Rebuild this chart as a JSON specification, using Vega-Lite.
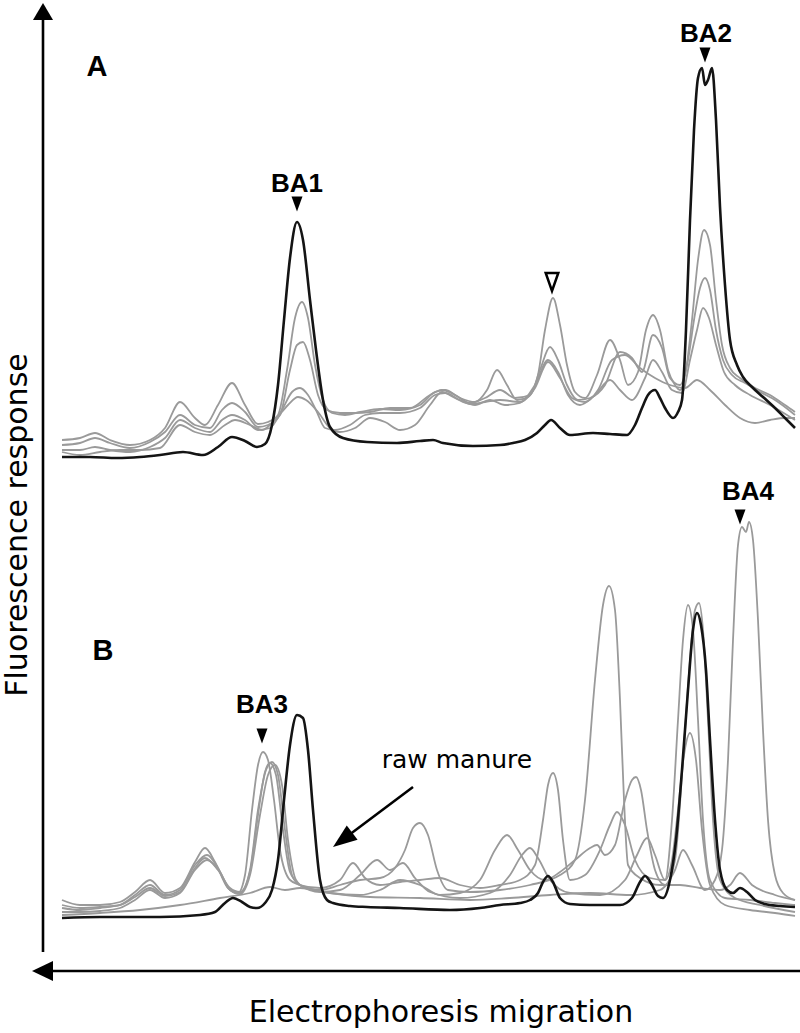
{
  "$schema": "https://vega.github.io/schema/vega-lite/v6.json",
  "width": 800,
  "height": 1033,
  "autosize": {"type": "none"},
  "padding": 0,
  "background": "white",
  "config": {"view": {"stroke": null}},
  "datasets": {
    "black": [
      {"id":"KA","x":62,"y":457},{"id":"KA","x":90,"y":457},{"id":"KA","x":117,"y":458},{"id":"KA","x":140,"y":457},{"id":"KA","x":160,"y":455},{"id":"KA","x":183,"y":452},{"id":"KA","x":203,"y":455},{"id":"KA","x":218,"y":447},{"id":"KA","x":232,"y":437},{"id":"KA","x":245,"y":441},{"id":"KA","x":257,"y":447},{"id":"KA","x":265,"y":444},{"id":"KA","x":272,"y":425},{"id":"KA","x":278,"y":385},{"id":"KA","x":284,"y":320},{"id":"KA","x":290,"y":258},{"id":"KA","x":297,"y":222},{"id":"KA","x":303,"y":240},{"id":"KA","x":310,"y":300},{"id":"KA","x":316,"y":350},{"id":"KA","x":323,"y":400},{"id":"KA","x":330,"y":427},{"id":"KA","x":343,"y":438},{"id":"KA","x":367,"y":442},{"id":"KA","x":397,"y":443},{"id":"KA","x":420,"y":441},{"id":"KA","x":433,"y":440},{"id":"KA","x":443,"y":443},{"id":"KA","x":473,"y":446},{"id":"KA","x":500,"y":445},{"id":"KA","x":513,"y":443},{"id":"KA","x":525,"y":440},{"id":"KA","x":537,"y":433},{"id":"KA","x":545,"y":425},{"id":"KA","x":551,"y":420},{"id":"KA","x":560,"y":428},{"id":"KA","x":570,"y":435},{"id":"KA","x":593,"y":433},{"id":"KA","x":610,"y":434},{"id":"KA","x":627,"y":435},{"id":"KA","x":635,"y":425},{"id":"KA","x":642,"y":408},{"id":"KA","x":648,"y":395},{"id":"KA","x":655,"y":390},{"id":"KA","x":660,"y":398},{"id":"KA","x":665,"y":408},{"id":"KA","x":673,"y":418},{"id":"KA","x":678,"y":412},{"id":"KA","x":682,"y":400},{"id":"KA","x":686,"y":330},{"id":"KA","x":690,"y":220},{"id":"KA","x":694,"y":130},{"id":"KA","x":698,"y":78},{"id":"KA","x":702,"y":68},{"id":"KA","x":705,"y":85},{"id":"KA","x":708,"y":80},{"id":"KA","x":712,"y":68},{"id":"KA","x":716,"y":120},{"id":"KA","x":720,"y":207},{"id":"KA","x":725,"y":285},{"id":"KA","x":730,"y":340},{"id":"KA","x":737,"y":365},{"id":"KA","x":743,"y":377},{"id":"KA","x":752,"y":387},{"id":"KA","x":763,"y":397},{"id":"KA","x":775,"y":408},{"id":"KA","x":785,"y":418},{"id":"KA","x":795,"y":428},
      {"id":"KB","x":62,"y":918},{"id":"KB","x":100,"y":917},{"id":"KB","x":160,"y":917},{"id":"KB","x":200,"y":915},{"id":"KB","x":215,"y":912},{"id":"KB","x":225,"y":903},{"id":"KB","x":233,"y":898},{"id":"KB","x":242,"y":902},{"id":"KB","x":250,"y":907},{"id":"KB","x":257,"y":908},{"id":"KB","x":265,"y":903},{"id":"KB","x":272,"y":890},{"id":"KB","x":278,"y":860},{"id":"KB","x":284,"y":800},{"id":"KB","x":290,"y":745},{"id":"KB","x":297,"y":715},{"id":"KB","x":303,"y":718},{"id":"KB","x":308,"y":750},{"id":"KB","x":313,"y":810},{"id":"KB","x":320,"y":880},{"id":"KB","x":327,"y":900},{"id":"KB","x":333,"y":903},{"id":"KB","x":350,"y":906},{"id":"KB","x":367,"y":907},{"id":"KB","x":400,"y":908},{"id":"KB","x":450,"y":910},{"id":"KB","x":480,"y":908},{"id":"KB","x":500,"y":905},{"id":"KB","x":520,"y":903},{"id":"KB","x":530,"y":900},{"id":"KB","x":538,"y":893},{"id":"KB","x":543,"y":882},{"id":"KB","x":548,"y":876},{"id":"KB","x":553,"y":882},{"id":"KB","x":560,"y":898},{"id":"KB","x":570,"y":904},{"id":"KB","x":590,"y":905},{"id":"KB","x":620,"y":905},{"id":"KB","x":632,"y":898},{"id":"KB","x":640,"y":882},{"id":"KB","x":645,"y":876},{"id":"KB","x":652,"y":885},{"id":"KB","x":658,"y":896},{"id":"KB","x":663,"y":898},{"id":"KB","x":670,"y":880},{"id":"KB","x":676,"y":840},{"id":"KB","x":682,"y":770},{"id":"KB","x":688,"y":690},{"id":"KB","x":693,"y":630},{"id":"KB","x":697,"y":613},{"id":"KB","x":701,"y":625},{"id":"KB","x":706,"y":670},{"id":"KB","x":710,"y":740},{"id":"KB","x":715,"y":820},{"id":"KB","x":720,"y":870},{"id":"KB","x":727,"y":890},{"id":"KB","x":733,"y":893},{"id":"KB","x":740,"y":888},{"id":"KB","x":747,"y":892},{"id":"KB","x":755,"y":900},{"id":"KB","x":765,"y":904},{"id":"KB","x":780,"y":906},{"id":"KB","x":795,"y":907}
    ],
    "grey": [
      {"id":"GA1","x":62,"y":440},{"id":"GA1","x":80,"y":438},{"id":"GA1","x":95,"y":433},{"id":"GA1","x":110,"y":440},{"id":"GA1","x":130,"y":445},{"id":"GA1","x":150,"y":440},{"id":"GA1","x":165,"y":428},{"id":"GA1","x":180,"y":402},{"id":"GA1","x":195,"y":418},{"id":"GA1","x":205,"y":425},{"id":"GA1","x":218,"y":405},{"id":"GA1","x":232,"y":383},{"id":"GA1","x":245,"y":405},{"id":"GA1","x":258,"y":424},{"id":"GA1","x":268,"y":422},{"id":"GA1","x":278,"y":415},{"id":"GA1","x":287,"y":370},{"id":"GA1","x":295,"y":318},{"id":"GA1","x":302,"y":302},{"id":"GA1","x":308,"y":318},{"id":"GA1","x":315,"y":365},{"id":"GA1","x":323,"y":400},{"id":"GA1","x":332,"y":413},{"id":"GA1","x":345,"y":415},{"id":"GA1","x":360,"y":412},{"id":"GA1","x":380,"y":409},{"id":"GA1","x":400,"y":410},{"id":"GA1","x":420,"y":405},{"id":"GA1","x":435,"y":392},{"id":"GA1","x":445,"y":390},{"id":"GA1","x":460,"y":398},{"id":"GA1","x":475,"y":402},{"id":"GA1","x":487,"y":390},{"id":"GA1","x":497,"y":370},{"id":"GA1","x":507,"y":385},{"id":"GA1","x":517,"y":400},{"id":"GA1","x":528,"y":397},{"id":"GA1","x":538,"y":375},{"id":"GA1","x":545,"y":330},{"id":"GA1","x":553,"y":298},{"id":"GA1","x":560,"y":325},{"id":"GA1","x":567,"y":365},{"id":"GA1","x":575,"y":392},{"id":"GA1","x":585,"y":398},{"id":"GA1","x":597,"y":375},{"id":"GA1","x":610,"y":340},{"id":"GA1","x":620,"y":360},{"id":"GA1","x":628,"y":385},{"id":"GA1","x":638,"y":372},{"id":"GA1","x":646,"y":330},{"id":"GA1","x":653,"y":315},{"id":"GA1","x":660,"y":330},{"id":"GA1","x":668,"y":370},{"id":"GA1","x":675,"y":385},{"id":"GA1","x":680,"y":390},{"id":"GA1","x":686,"y":370},{"id":"GA1","x":692,"y":320},{"id":"GA1","x":698,"y":260},{"id":"GA1","x":704,"y":230},{"id":"GA1","x":710,"y":245},{"id":"GA1","x":716,"y":300},{"id":"GA1","x":722,"y":345},{"id":"GA1","x":730,"y":368},{"id":"GA1","x":740,"y":378},{"id":"GA1","x":755,"y":388},{"id":"GA1","x":770,"y":395},{"id":"GA1","x":785,"y":405},{"id":"GA1","x":795,"y":412},
      {"id":"GA2","x":62,"y":445},{"id":"GA2","x":80,"y":443},{"id":"GA2","x":95,"y":438},{"id":"GA2","x":110,"y":443},{"id":"GA2","x":130,"y":448},{"id":"GA2","x":150,"y":442},{"id":"GA2","x":165,"y":432},{"id":"GA2","x":180,"y":415},{"id":"GA2","x":195,"y":425},{"id":"GA2","x":210,"y":428},{"id":"GA2","x":222,"y":410},{"id":"GA2","x":232,"y":403},{"id":"GA2","x":245,"y":412},{"id":"GA2","x":258,"y":427},{"id":"GA2","x":268,"y":425},{"id":"GA2","x":280,"y":415},{"id":"GA2","x":290,"y":370},{"id":"GA2","x":297,"y":345},{"id":"GA2","x":303,"y":342},{"id":"GA2","x":310,"y":360},{"id":"GA2","x":318,"y":395},{"id":"GA2","x":327,"y":410},{"id":"GA2","x":340,"y":413},{"id":"GA2","x":355,"y":413},{"id":"GA2","x":370,"y":412},{"id":"GA2","x":390,"y":408},{"id":"GA2","x":410,"y":408},{"id":"GA2","x":430,"y":395},{"id":"GA2","x":442,"y":390},{"id":"GA2","x":455,"y":395},{"id":"GA2","x":470,"y":403},{"id":"GA2","x":485,"y":398},{"id":"GA2","x":500,"y":390},{"id":"GA2","x":515,"y":398},{"id":"GA2","x":530,"y":395},{"id":"GA2","x":540,"y":370},{"id":"GA2","x":550,"y":347},{"id":"GA2","x":558,"y":360},{"id":"GA2","x":567,"y":385},{"id":"GA2","x":578,"y":400},{"id":"GA2","x":590,"y":398},{"id":"GA2","x":605,"y":385},{"id":"GA2","x":620,"y":352},{"id":"GA2","x":632,"y":358},{"id":"GA2","x":642,"y":372},{"id":"GA2","x":653,"y":335},{"id":"GA2","x":662,"y":348},{"id":"GA2","x":670,"y":378},{"id":"GA2","x":680,"y":385},{"id":"GA2","x":688,"y":360},{"id":"GA2","x":694,"y":320},{"id":"GA2","x":700,"y":288},{"id":"GA2","x":705,"y":278},{"id":"GA2","x":710,"y":290},{"id":"GA2","x":716,"y":330},{"id":"GA2","x":723,"y":360},{"id":"GA2","x":732,"y":375},{"id":"GA2","x":745,"y":383},{"id":"GA2","x":760,"y":392},{"id":"GA2","x":775,"y":400},{"id":"GA2","x":795,"y":415},
      {"id":"GA3","x":62,"y":450},{"id":"GA3","x":80,"y":450},{"id":"GA3","x":95,"y":447},{"id":"GA3","x":110,"y":450},{"id":"GA3","x":130,"y":452},{"id":"GA3","x":150,"y":447},{"id":"GA3","x":165,"y":438},{"id":"GA3","x":180,"y":420},{"id":"GA3","x":195,"y":428},{"id":"GA3","x":210,"y":432},{"id":"GA3","x":222,"y":420},{"id":"GA3","x":232,"y":415},{"id":"GA3","x":245,"y":420},{"id":"GA3","x":258,"y":430},{"id":"GA3","x":270,"y":428},{"id":"GA3","x":282,"y":410},{"id":"GA3","x":292,"y":392},{"id":"GA3","x":300,"y":388},{"id":"GA3","x":308,"y":395},{"id":"GA3","x":316,"y":410},{"id":"GA3","x":325,"y":428},{"id":"GA3","x":335,"y":430},{"id":"GA3","x":350,"y":425},{"id":"GA3","x":365,"y":415},{"id":"GA3","x":380,"y":413},{"id":"GA3","x":400,"y":413},{"id":"GA3","x":420,"y":408},{"id":"GA3","x":435,"y":395},{"id":"GA3","x":445,"y":393},{"id":"GA3","x":460,"y":400},{"id":"GA3","x":475,"y":405},{"id":"GA3","x":490,"y":400},{"id":"GA3","x":505,"y":405},{"id":"GA3","x":520,"y":403},{"id":"GA3","x":535,"y":385},{"id":"GA3","x":548,"y":360},{"id":"GA3","x":558,"y":372},{"id":"GA3","x":568,"y":395},{"id":"GA3","x":580,"y":405},{"id":"GA3","x":595,"y":395},{"id":"GA3","x":610,"y":380},{"id":"GA3","x":620,"y":390},{"id":"GA3","x":632,"y":400},{"id":"GA3","x":645,"y":378},{"id":"GA3","x":653,"y":360},{"id":"GA3","x":662,"y":372},{"id":"GA3","x":672,"y":390},{"id":"GA3","x":682,"y":393},{"id":"GA3","x":690,"y":360},{"id":"GA3","x":697,"y":330},{"id":"GA3","x":703,"y":308},{"id":"GA3","x":709,"y":318},{"id":"GA3","x":716,"y":345},{"id":"GA3","x":724,"y":372},{"id":"GA3","x":735,"y":385},{"id":"GA3","x":750,"y":395},{"id":"GA3","x":770,"y":405},{"id":"GA3","x":795,"y":420},
      {"id":"GA4","x":62,"y":452},{"id":"GA4","x":80,"y":455},{"id":"GA4","x":100,"y":452},{"id":"GA4","x":120,"y":450},{"id":"GA4","x":140,"y":450},{"id":"GA4","x":160,"y":448},{"id":"GA4","x":180,"y":425},{"id":"GA4","x":195,"y":432},{"id":"GA4","x":210,"y":435},{"id":"GA4","x":225,"y":425},{"id":"GA4","x":235,"y":420},{"id":"GA4","x":250,"y":425},{"id":"GA4","x":262,"y":430},{"id":"GA4","x":275,"y":420},{"id":"GA4","x":288,"y":405},{"id":"GA4","x":298,"y":397},{"id":"GA4","x":306,"y":400},{"id":"GA4","x":318,"y":412},{"id":"GA4","x":330,"y":428},{"id":"GA4","x":340,"y":432},{"id":"GA4","x":355,"y":428},{"id":"GA4","x":370,"y":418},{"id":"GA4","x":385,"y":422},{"id":"GA4","x":400,"y":430},{"id":"GA4","x":415,"y":425},{"id":"GA4","x":430,"y":405},{"id":"GA4","x":442,"y":392},{"id":"GA4","x":455,"y":398},{"id":"GA4","x":470,"y":404},{"id":"GA4","x":485,"y":402},{"id":"GA4","x":500,"y":400},{"id":"GA4","x":520,"y":402},{"id":"GA4","x":535,"y":388},{"id":"GA4","x":548,"y":362},{"id":"GA4","x":560,"y":378},{"id":"GA4","x":572,"y":398},{"id":"GA4","x":585,"y":402},{"id":"GA4","x":598,"y":390},{"id":"GA4","x":612,"y":360},{"id":"GA4","x":625,"y":355},{"id":"GA4","x":640,"y":368},{"id":"GA4","x":655,"y":378},{"id":"GA4","x":670,"y":385},{"id":"GA4","x":685,"y":388},{"id":"GA4","x":697,"y":380},{"id":"GA4","x":710,"y":390},{"id":"GA4","x":725,"y":405},{"id":"GA4","x":740,"y":418},{"id":"GA4","x":755,"y":423},{"id":"GA4","x":770,"y":420},{"id":"GA4","x":785,"y":418},{"id":"GA4","x":795,"y":418},
      {"id":"GB1","x":62,"y":900},{"id":"GB1","x":80,"y":905},{"id":"GB1","x":100,"y":905},{"id":"GB1","x":120,"y":902},{"id":"GB1","x":135,"y":892},{"id":"GB1","x":150,"y":880},{"id":"GB1","x":165,"y":893},{"id":"GB1","x":180,"y":888},{"id":"GB1","x":195,"y":862},{"id":"GB1","x":205,"y":848},{"id":"GB1","x":215,"y":862},{"id":"GB1","x":228,"y":888},{"id":"GB1","x":238,"y":893},{"id":"GB1","x":245,"y":875},{"id":"GB1","x":252,"y":810},{"id":"GB1","x":258,"y":765},{"id":"GB1","x":263,"y":752},{"id":"GB1","x":268,"y":760},{"id":"GB1","x":274,"y":800},{"id":"GB1","x":280,"y":850},{"id":"GB1","x":290,"y":880},{"id":"GB1","x":300,"y":885},{"id":"GB1","x":320,"y":890},{"id":"GB1","x":340,"y":885},{"id":"GB1","x":360,"y":880},{"id":"GB1","x":380,"y":878},{"id":"GB1","x":395,"y":868},{"id":"GB1","x":405,"y":850},{"id":"GB1","x":413,"y":828},{"id":"GB1","x":420,"y":823},{"id":"GB1","x":428,"y":835},{"id":"GB1","x":437,"y":870},{"id":"GB1","x":448,"y":890},{"id":"GB1","x":470,"y":892},{"id":"GB1","x":500,"y":890},{"id":"GB1","x":530,"y":885},{"id":"GB1","x":560,"y":875},{"id":"GB1","x":575,"y":860},{"id":"GB1","x":585,"y":800},{"id":"GB1","x":595,"y":680},{"id":"GB1","x":603,"y":605},{"id":"GB1","x":609,"y":586},{"id":"GB1","x":615,"y":610},{"id":"GB1","x":620,"y":700},{"id":"GB1","x":624,"y":800},{"id":"GB1","x":628,"y":865},{"id":"GB1","x":640,"y":878},{"id":"GB1","x":660,"y":885},{"id":"GB1","x":680,"y":885},{"id":"GB1","x":700,"y":888},{"id":"GB1","x":720,"y":890},{"id":"GB1","x":730,"y":885},{"id":"GB1","x":740,"y":873},{"id":"GB1","x":752,"y":885},{"id":"GB1","x":775,"y":895},{"id":"GB1","x":795,"y":900},
      {"id":"GB2","x":62,"y":908},{"id":"GB2","x":80,"y":910},{"id":"GB2","x":100,"y":908},{"id":"GB2","x":120,"y":905},{"id":"GB2","x":135,"y":895},{"id":"GB2","x":150,"y":885},{"id":"GB2","x":165,"y":895},{"id":"GB2","x":180,"y":890},{"id":"GB2","x":195,"y":865},{"id":"GB2","x":207,"y":855},{"id":"GB2","x":218,"y":868},{"id":"GB2","x":230,"y":890},{"id":"GB2","x":240,"y":893},{"id":"GB2","x":250,"y":870},{"id":"GB2","x":258,"y":810},{"id":"GB2","x":266,"y":770},{"id":"GB2","x":272,"y":762},{"id":"GB2","x":278,"y":775},{"id":"GB2","x":285,"y":830},{"id":"GB2","x":292,"y":875},{"id":"GB2","x":300,"y":885},{"id":"GB2","x":320,"y":888},{"id":"GB2","x":340,"y":880},{"id":"GB2","x":353,"y":863},{"id":"GB2","x":365,"y":878},{"id":"GB2","x":380,"y":885},{"id":"GB2","x":400,"y":882},{"id":"GB2","x":420,"y":880},{"id":"GB2","x":440,"y":878},{"id":"GB2","x":460,"y":885},{"id":"GB2","x":480,"y":888},{"id":"GB2","x":500,"y":885},{"id":"GB2","x":520,"y":880},{"id":"GB2","x":535,"y":865},{"id":"GB2","x":543,"y":820},{"id":"GB2","x":548,"y":785},{"id":"GB2","x":553,"y":773},{"id":"GB2","x":558,"y":790},{"id":"GB2","x":563,"y":840},{"id":"GB2","x":570,"y":880},{"id":"GB2","x":585,"y":875},{"id":"GB2","x":600,"y":850},{"id":"GB2","x":610,"y":825},{"id":"GB2","x":617,"y":812},{"id":"GB2","x":625,"y":825},{"id":"GB2","x":635,"y":860},{"id":"GB2","x":650,"y":878},{"id":"GB2","x":665,"y":880},{"id":"GB2","x":672,"y":820},{"id":"GB2","x":678,"y":720},{"id":"GB2","x":683,"y":640},{"id":"GB2","x":688,"y":605},{"id":"GB2","x":693,"y":630},{"id":"GB2","x":698,"y":720},{"id":"GB2","x":703,"y":820},{"id":"GB2","x":710,"y":880},{"id":"GB2","x":725,"y":898},{"id":"GB2","x":750,"y":900},{"id":"GB2","x":775,"y":903},{"id":"GB2","x":795,"y":905},
      {"id":"GB3","x":62,"y":912},{"id":"GB3","x":80,"y":912},{"id":"GB3","x":100,"y":911},{"id":"GB3","x":120,"y":908},{"id":"GB3","x":135,"y":900},{"id":"GB3","x":150,"y":890},{"id":"GB3","x":165,"y":898},{"id":"GB3","x":180,"y":893},{"id":"GB3","x":195,"y":870},{"id":"GB3","x":207,"y":860},{"id":"GB3","x":220,"y":872},{"id":"GB3","x":230,"y":890},{"id":"GB3","x":240,"y":894},{"id":"GB3","x":250,"y":875},{"id":"GB3","x":260,"y":815},{"id":"GB3","x":268,"y":775},{"id":"GB3","x":275,"y":765},{"id":"GB3","x":282,"y":785},{"id":"GB3","x":288,"y":840},{"id":"GB3","x":296,"y":880},{"id":"GB3","x":305,"y":888},{"id":"GB3","x":330,"y":893},{"id":"GB3","x":360,"y":895},{"id":"GB3","x":380,"y":890},{"id":"GB3","x":400,"y":880},{"id":"GB3","x":420,"y":885},{"id":"GB3","x":440,"y":895},{"id":"GB3","x":460,"y":893},{"id":"GB3","x":480,"y":880},{"id":"GB3","x":495,"y":850},{"id":"GB3","x":507,"y":835},{"id":"GB3","x":518,"y":850},{"id":"GB3","x":530,"y":870},{"id":"GB3","x":545,"y":880},{"id":"GB3","x":560,"y":872},{"id":"GB3","x":575,"y":860},{"id":"GB3","x":590,"y":848},{"id":"GB3","x":597,"y":845},{"id":"GB3","x":605,"y":855},{"id":"GB3","x":615,"y":845},{"id":"GB3","x":625,"y":800},{"id":"GB3","x":632,"y":780},{"id":"GB3","x":636,"y":777},{"id":"GB3","x":641,"y":790},{"id":"GB3","x":647,"y":830},{"id":"GB3","x":655,"y":870},{"id":"GB3","x":665,"y":885},{"id":"GB3","x":675,"y":860},{"id":"GB3","x":683,"y":760},{"id":"GB3","x":690,"y":660},{"id":"GB3","x":695,"y":610},{"id":"GB3","x":699,"y":603},{"id":"GB3","x":703,"y":630},{"id":"GB3","x":708,"y":720},{"id":"GB3","x":713,"y":820},{"id":"GB3","x":720,"y":880},{"id":"GB3","x":735,"y":898},{"id":"GB3","x":760,"y":905},{"id":"GB3","x":795,"y":912},
      {"id":"GB4","x":62,"y":905},{"id":"GB4","x":80,"y":908},{"id":"GB4","x":100,"y":907},{"id":"GB4","x":120,"y":905},{"id":"GB4","x":135,"y":897},{"id":"GB4","x":150,"y":888},{"id":"GB4","x":165,"y":896},{"id":"GB4","x":180,"y":892},{"id":"GB4","x":195,"y":868},{"id":"GB4","x":205,"y":858},{"id":"GB4","x":218,"y":870},{"id":"GB4","x":230,"y":888},{"id":"GB4","x":240,"y":892},{"id":"GB4","x":250,"y":872},{"id":"GB4","x":258,"y":815},{"id":"GB4","x":265,"y":772},{"id":"GB4","x":270,"y":763},{"id":"GB4","x":276,"y":775},{"id":"GB4","x":283,"y":830},{"id":"GB4","x":290,"y":872},{"id":"GB4","x":300,"y":885},{"id":"GB4","x":320,"y":892},{"id":"GB4","x":340,"y":890},{"id":"GB4","x":360,"y":875},{"id":"GB4","x":377,"y":860},{"id":"GB4","x":390,"y":870},{"id":"GB4","x":403,"y":863},{"id":"GB4","x":415,"y":878},{"id":"GB4","x":430,"y":892},{"id":"GB4","x":460,"y":898},{"id":"GB4","x":490,"y":893},{"id":"GB4","x":510,"y":875},{"id":"GB4","x":522,"y":855},{"id":"GB4","x":530,"y":848},{"id":"GB4","x":538,"y":858},{"id":"GB4","x":550,"y":880},{"id":"GB4","x":570,"y":893},{"id":"GB4","x":600,"y":895},{"id":"GB4","x":625,"y":880},{"id":"GB4","x":637,"y":855},{"id":"GB4","x":647,"y":838},{"id":"GB4","x":655,"y":855},{"id":"GB4","x":665,"y":880},{"id":"GB4","x":672,"y":860},{"id":"GB4","x":678,"y":810},{"id":"GB4","x":684,"y":755},{"id":"GB4","x":690,"y":733},{"id":"GB4","x":696,"y":760},{"id":"GB4","x":702,"y":830},{"id":"GB4","x":710,"y":885},{"id":"GB4","x":725,"y":905},{"id":"GB4","x":750,"y":910},{"id":"GB4","x":775,"y":913},{"id":"GB4","x":795,"y":916},
      {"id":"GB5","x":62,"y":915},{"id":"GB5","x":100,"y":913},{"id":"GB5","x":140,"y":910},{"id":"GB5","x":180,"y":905},{"id":"GB5","x":220,"y":898},{"id":"GB5","x":250,"y":893},{"id":"GB5","x":270,"y":887},{"id":"GB5","x":285,"y":890},{"id":"GB5","x":300,"y":888},{"id":"GB5","x":330,"y":893},{"id":"GB5","x":370,"y":897},{"id":"GB5","x":420,"y":898},{"id":"GB5","x":470,"y":900},{"id":"GB5","x":510,"y":898},{"id":"GB5","x":550,"y":895},{"id":"GB5","x":590,"y":893},{"id":"GB5","x":630,"y":895},{"id":"GB5","x":660,"y":890},{"id":"GB5","x":675,"y":870},{"id":"GB5","x":683,"y":850},{"id":"GB5","x":692,"y":865},{"id":"GB5","x":705,"y":890},{"id":"GB5","x":715,"y":880},{"id":"GB5","x":722,"y":850},{"id":"GB5","x":728,"y":760},{"id":"GB5","x":733,"y":640},{"id":"GB5","x":738,"y":545},{"id":"GB5","x":742,"y":527},{"id":"GB5","x":746,"y":532},{"id":"GB5","x":749,"y":522},{"id":"GB5","x":753,"y":540},{"id":"GB5","x":758,"y":620},{"id":"GB5","x":763,"y":730},{"id":"GB5","x":768,"y":820},{"id":"GB5","x":775,"y":875},{"id":"GB5","x":783,"y":893},{"id":"GB5","x":795,"y":900}
    ],
    "axes": [
      {"x":43,"y":20,"x2":43,"y2":952},
      {"x":53,"y":971,"x2":800,"y2":971},
      {"x":413,"y":787,"x2":345,"y2":838}
    ],
    "heads": [
      {"x":43,"y":11.5,"dir":"up"},
      {"x":42.5,"y":971,"dir":"left"},
      {"x":342.6,"y":839.8,"dir":"diag"}
    ],
    "peaks": [
      {"x":297,"y":204},{"x":705,"y":55},{"x":262,"y":736},{"x":740,"y":517}
    ],
    "openpeaks": [
      {"x":552,"y":282}
    ],
    "panels": [
      {"x":97,"y":76,"t":"A"},{"x":103,"y":660,"t":"B"}
    ],
    "boldlabels": [
      {"x":297,"y":192,"t":"BA1"},{"x":706,"y":42,"t":"BA2"},
      {"x":262,"y":713,"t":"BA3"},{"x":748,"y":500,"t":"BA4"}
    ],
    "plainlabels": [
      {"x":457,"y":768,"t":"raw manure","s":25},
      {"x":441,"y":1022,"t":"Electrophoresis migration","s":30}
    ],
    "ytitle": [
      {"x":27,"y":525,"t":"Fluorescence response"}
    ]
  },
  "layer": [
    {
      "data": {"name": "grey"},
      "mark": {"type": "line", "color": "#9a9a9a", "strokeWidth": 1.8, "interpolate": "monotone"},
      "encoding": {
        "x": {"field": "x", "type": "quantitative", "scale": {"domain": [0, 800], "nice": false, "zero": false}, "axis": null},
        "y": {"field": "y", "type": "quantitative", "scale": {"domain": [0, 1033], "nice": false, "zero": false, "reverse": true}, "axis": null},
        "detail": {"field": "id"}
      }
    },
    {
      "data": {"name": "black"},
      "mark": {"type": "line", "color": "#141414", "strokeWidth": 2.6, "interpolate": "monotone"},
      "encoding": {
        "x": {"field": "x", "type": "quantitative", "axis": null},
        "y": {"field": "y", "type": "quantitative", "axis": null},
        "detail": {"field": "id"}
      }
    },
    {
      "data": {"name": "axes"},
      "mark": {"type": "rule", "color": "#000000", "strokeWidth": 2.6},
      "encoding": {
        "x": {"field": "x", "type": "quantitative", "axis": null},
        "y": {"field": "y", "type": "quantitative", "axis": null},
        "x2": {"field": "x2"},
        "y2": {"field": "y2"}
      }
    },
    {
      "data": {"name": "heads"},
      "transform": [{"filter": "datum.dir === 'up'"}],
      "mark": {"type": "point", "shape": "M-1,0.85L0,-0.85L1,0.85Z", "size": 400, "filled": true, "color": "#000000", "opacity": 1},
      "encoding": {
        "x": {"field": "x", "type": "quantitative", "axis": null},
        "y": {"field": "y", "type": "quantitative", "axis": null}
      }
    },
    {
      "data": {"name": "heads"},
      "transform": [{"filter": "datum.dir === 'left'"}],
      "mark": {"type": "point", "shape": "M-1,0L1,-0.95L1,0.95Z", "size": 441, "filled": true, "color": "#000000", "opacity": 1},
      "encoding": {
        "x": {"field": "x", "type": "quantitative", "axis": null},
        "y": {"field": "y", "type": "quantitative", "axis": null}
      }
    },
    {
      "data": {"name": "heads"},
      "transform": [{"filter": "datum.dir === 'diag'"}],
      "mark": {"type": "point", "shape": "M1,0L-1,-0.75L-1,0.75Z", "size": 576, "angle": 143, "filled": true, "color": "#000000", "opacity": 1},
      "encoding": {
        "x": {"field": "x", "type": "quantitative", "axis": null},
        "y": {"field": "y", "type": "quantitative", "axis": null}
      }
    },
    {
      "data": {"name": "peaks"},
      "mark": {"type": "point", "shape": "M-0.73,-1L0.73,-1L0,1Z", "size": 225, "filled": true, "color": "#000000", "opacity": 1},
      "encoding": {
        "x": {"field": "x", "type": "quantitative", "axis": null},
        "y": {"field": "y", "type": "quantitative", "axis": null}
      }
    },
    {
      "data": {"name": "openpeaks"},
      "mark": {"type": "point", "shape": "M-0.7,-1L0.7,-1L0,1Z", "size": 324, "filled": true, "fill": "#ffffff", "stroke": "#000000", "strokeWidth": 2.5, "opacity": 1},
      "encoding": {
        "x": {"field": "x", "type": "quantitative", "axis": null},
        "y": {"field": "y", "type": "quantitative", "axis": null}
      }
    },
    {
      "data": {"name": "panels"},
      "mark": {"type": "text", "font": "Liberation Sans", "fontWeight": "bold", "fontSize": 29, "align": "center", "baseline": "alphabetic", "color": "#000000"},
      "encoding": {
        "x": {"field": "x", "type": "quantitative", "axis": null},
        "y": {"field": "y", "type": "quantitative", "axis": null},
        "text": {"field": "t"}
      }
    },
    {
      "data": {"name": "boldlabels"},
      "mark": {"type": "text", "font": "Liberation Sans", "fontWeight": "bold", "fontSize": 26, "align": "center", "baseline": "alphabetic", "color": "#000000"},
      "encoding": {
        "x": {"field": "x", "type": "quantitative", "axis": null},
        "y": {"field": "y", "type": "quantitative", "axis": null},
        "text": {"field": "t"}
      }
    },
    {
      "data": {"name": "plainlabels"},
      "mark": {"type": "text", "font": "DejaVu Sans", "align": "center", "baseline": "alphabetic", "color": "#000000"},
      "encoding": {
        "x": {"field": "x", "type": "quantitative", "axis": null},
        "y": {"field": "y", "type": "quantitative", "axis": null},
        "text": {"field": "t"},
        "size": {"field": "s", "type": "quantitative", "scale": null}
      }
    },
    {
      "data": {"name": "ytitle"},
      "mark": {"type": "text", "font": "DejaVu Sans", "fontSize": 30, "angle": 270, "align": "center", "baseline": "alphabetic", "color": "#000000"},
      "encoding": {
        "x": {"field": "x", "type": "quantitative", "axis": null},
        "y": {"field": "y", "type": "quantitative", "axis": null},
        "text": {"field": "t"}
      }
    }
  ]
}
